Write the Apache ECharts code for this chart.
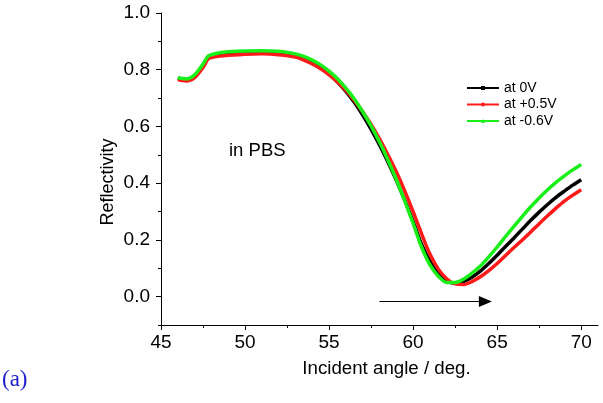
<!DOCTYPE html>
<html>
<head>
<meta charset="utf-8">
<script src="https://cdn.jsdelivr.net/npm/echarts@6/dist/echarts.min.js"></script>
<style>
html,body{margin:0;padding:0;background:#fff;}
#chart{width:603px;height:403px;}
</style>
</head>
<body>
<div id="chart"></div>
<script>
// ---- data ----
const angles = [46.0,46.5,47.0,47.5,47.8,48.0,48.5,49.0,50.0,51.0,52.0,53.0,53.5,54.0,54.5,55.0,55.5,56.0,56.5,57.0,57.5,58.0,58.5,59.0,59.5,60.0,60.5,61.0,61.5,62.0,62.5,63.0,63.5,64.0,64.5,65.0,65.5,66.0,66.5,67.0,67.5,68.0,68.5,69.0,69.5,70.0];
const at0V = [0.770,0.765,0.778,0.815,0.845,0.850,0.856,0.858,0.861,0.862,0.860,0.850,0.840,0.826,0.808,0.785,0.757,0.724,0.685,0.640,0.590,0.535,0.475,0.410,0.340,0.265,0.185,0.125,0.080,0.055,0.047,0.053,0.068,0.090,0.117,0.146,0.177,0.207,0.238,0.269,0.298,0.325,0.350,0.372,0.393,0.412];
const atPlus05V = [0.765,0.760,0.772,0.808,0.838,0.843,0.848,0.851,0.855,0.856,0.853,0.845,0.834,0.820,0.803,0.782,0.757,0.727,0.692,0.652,0.607,0.556,0.500,0.440,0.373,0.300,0.222,0.150,0.097,0.063,0.045,0.043,0.053,0.070,0.092,0.117,0.145,0.173,0.200,0.228,0.257,0.285,0.312,0.337,0.358,0.377];
const atMinus06V = [0.772,0.768,0.782,0.820,0.848,0.853,0.860,0.863,0.866,0.867,0.865,0.856,0.847,0.834,0.817,0.795,0.768,0.735,0.697,0.652,0.602,0.545,0.482,0.413,0.338,0.258,0.175,0.112,0.072,0.050,0.050,0.062,0.083,0.108,0.140,0.175,0.212,0.248,0.283,0.317,0.348,0.377,0.403,0.426,0.447,0.466];
const seriesNames = ['at 0V','at +0.5V','at -0.6V'];
const xTicks = [45,50,55,60,65,70];
const xMinorTicks = [47.5,52.5,57.5,62.5,67.5];
const yTicks = [0.0,0.2,0.4,0.6,0.8,1.0];
const yMinorTicks = [-0.1,0.1,0.3,0.5,0.7,0.9];
const arrowStart = [58.0,-0.017];
const arrowEnd = [64.3,-0.017];
const xName = 'Incident angle / deg.';
const yName = 'Reflectivity';
const noteText = 'in PBS';
const panelLabel = '(a)';

const zip = (xs, ys) => xs.map((x, i) => [x, ys[i]]);
const FONT = '"Liberation Sans", Arial, sans-serif';

const chart = echarts.init(document.getElementById('chart'), null, {renderer:'canvas'});
const axisLineOn = {show:true,onZero:false,lineStyle:{color:'#000',width:1}};
const axisLineOff = {show:false,onZero:false};
const option = {
  animation:false,
  backgroundColor:'#fff',
  grid:{left:161, top:13, right:5, bottom:78, containLabel:false},
  xAxis:[
    {type:'value', min:45, max:71, position:'bottom', axisLine:axisLineOn, splitLine:{show:false},
      name:xName, nameLocation:'middle', nameGap:34,
      nameTextStyle:{fontFamily:FONT, fontSize:18.7, color:'#000', padding:[0,0,0,14]},
      axisTick:{show:true, length:5, lineStyle:{color:'#000'}, customValues:xTicks},
      axisLabel:{fontFamily:FONT, fontSize:19, color:'#000', margin:8, customValues:xTicks}},
    {type:'value', min:45, max:71, position:'bottom', axisLine:axisLineOff, splitLine:{show:false},
      axisTick:{show:true, length:3, lineStyle:{color:'#000'}, customValues:xMinorTicks},
      axisLabel:{show:false, customValues:xMinorTicks}}
  ],
  yAxis:[
    {type:'value', min:-0.1, max:1.0, position:'left', axisLine:axisLineOn, splitLine:{show:false},
      axisTick:{show:true, length:5, lineStyle:{color:'#000'}, customValues:yTicks},
      axisLabel:{fontFamily:FONT, fontSize:19, color:'#000', margin:11, customValues:yTicks,
        formatter:v=>v.toFixed(1)}},
    {type:'value', min:-0.1, max:1.0, position:'left', axisLine:axisLineOff, splitLine:{show:false},
      axisTick:{show:true, length:3, lineStyle:{color:'#000'}, customValues:yMinorTicks},
      axisLabel:{show:false, customValues:yMinorTicks}}
  ],
  legend:{
    orient:'vertical', left:461, top:76, itemWidth:32, itemHeight:5, itemGap:2.5,
    textStyle:{fontFamily:FONT, fontSize:14, color:'#000'},
    data:seriesNames
  },
  series:[
    {name:seriesNames[0], type:'line', data:zip(angles, at0V), smooth:0.3, showSymbol:false, symbol:'rect', symbolSize:4,
     lineStyle:{color:'#000', width:3.5}, itemStyle:{color:'#000'}, z:2},
    {name:seriesNames[1], type:'line', data:zip(angles, atPlus05V), smooth:0.3, showSymbol:false, symbol:'circle', symbolSize:4,
     lineStyle:{color:'#ff1a1a', width:3.5}, itemStyle:{color:'#ff1a1a'}, z:3},
    {name:seriesNames[2], type:'line', data:zip(angles, atMinus06V), smooth:0.3, showSymbol:false, symbol:'triangle', symbolSize:4,
     lineStyle:{color:'#19f019', width:3.5}, itemStyle:{color:'#19f019'}, z:4},
    {name:'arrow', type:'line', data:[], silent:true,
     markLine:{silent:true, symbol:['none','triangle'], symbolSize:[11,13], label:{show:false},
       lineStyle:{color:'#000', width:1.2, type:'solid'}, itemStyle:{color:'#000'},
       data:[[{coord:arrowStart},{coord:arrowEnd}]]}}
  ],
  graphic:[
    {type:'text', x:108, y:182, rotation:Math.PI/2,
      style:{text:yName, font:'18px '+FONT, fill:'#000', align:'center', verticalAlign:'middle'}},
    {type:'text', left:229, top:141, style:{text:noteText, font:'18.5px '+FONT, fill:'#000'}},
    {type:'text', left:2, top:368, style:{text:panelLabel, font:'23px "Liberation Serif", "Times New Roman", serif', fill:'#2222cc'}}
  ]
};
chart.setOption(option);
</script>
</body>
</html>
